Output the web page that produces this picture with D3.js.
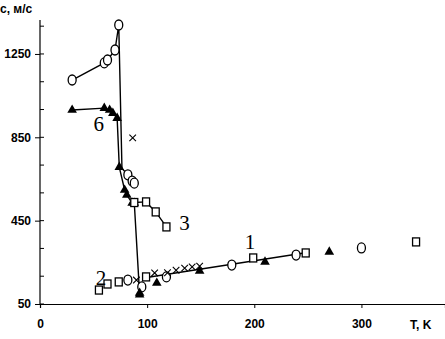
<!DOCTYPE html>
<html>
<head>
<meta charset="utf-8">
<script src="https://d3js.org/d3.v7.min.js"></script>
<style>
  body { margin: 0; background: #fff; }
  .ax { font-family: "Liberation Sans", Arial, sans-serif; font-weight: bold; }
  .lbl { font-family: "Liberation Serif", serif; }
</style>
</head>
<body>
<svg id="chart" width="445" height="339"></svg>
<script>
// [T, c] pairs
const circlesUpper = [[30, 1125], [60, 1207], [63, 1221], [70, 1269], [73.5, 1389], [76.5, 700], [82, 670], [86, 640], [88, 630]];
const triangles6 = [[30, 981], [60, 990], [65, 981], [68, 966], [72, 942], [74, 707], [79, 597], [81, 573], [86, 535], [88, 535], [93, 95]];
const squares3 = [[88, 537], [99, 540], [108, 492], [118, 420]];
const squares2 = [[55, 117], [63, 146], [73.5, 156], [99, 180], [199, 271], [248, 295], [351, 348]];
const circles1 = [[82, 165], [95, 132], [118, 180], [179, 237], [239, 285], [300, 319]];
const triangles1 = [[93, 103], [109, 151], [149, 208], [210, 252], [270, 300]];
const crosses = [[86.5, 847], [90, 165], [107, 199], [119, 200], [127, 212], [135, 222], [142, 228], [149, 232]];
const line1 = [[98, 176], [248, 296]];
const xTicks = [0, 100, 200, 300];
const yTicks = [50, 450, 850, 1250];
const curveLabels = [["6", 50, 880], ["3", 130, 405], ["1", 191, 312], ["2", 52, 140]];

const svg = d3.select("#chart");
const x = d3.scaleLinear().domain([0, 378]).range([40, 445]);
const y = d3.scaleLinear().domain([50, 1413]).range([304, 20]);

// axes
svg.append("g").attr("class", "ax")
  .attr("transform", "translate(0,304)")
  .call(d3.axisBottom(x).tickValues(xTicks).tickSize(4).tickPadding(11).tickFormat(d3.format("d")))
  .call(g => g.select(".domain").attr("stroke-width", 1.2));
svg.append("g").attr("class", "ax")
  .attr("transform", "translate(40,0)")
  .call(d3.axisLeft(y).tickValues(yTicks).tickSize(5).tickPadding(4).tickFormat(d3.format("d")))
  .call(g => g.select(".domain").attr("stroke-width", 1.2).attr("d", "M0,20V304"));
// minor ticks
svg.append("g").selectAll("line")
  .data(d3.range(50, 1400, 400 / 3))
  .join("line")
  .attr("x1", 40).attr("x2", 44)
  .attr("y1", d => y(d)).attr("y2", d => y(d))
  .attr("stroke", "#000");
svg.selectAll(".tick text")
  .attr("font-size", 12).attr("fill", "#000");
svg.selectAll(".tick line").attr("stroke", "#000");

svg.append("text").attr("class", "ax").attr("x", 0).attr("y", 13)
  .attr("font-size", 12).text("c, м/с");
svg.append("text").attr("class", "ax").attr("x", 410).attr("y", 329)
  .attr("font-size", 12).text("T, K");

const line = d3.line().x(d => x(d[0])).y(d => y(d[1]));
[circlesUpper, triangles6, squares3, line1].forEach(s => {
  svg.append("path").datum(s).attr("d", line)
    .attr("fill", "none").attr("stroke", "#000").attr("stroke-width", 1.4);
});

function drawCircles(data) {
  svg.append("g").selectAll("ellipse").data(data).join("ellipse")
    .attr("cx", d => x(d[0])).attr("cy", d => y(d[1]))
    .attr("rx", 4).attr("ry", 5)
    .attr("fill", "#fff").attr("stroke", "#000").attr("stroke-width", 1.3);
}
function drawSquares(data) {
  svg.append("g").selectAll("rect").data(data).join("rect")
    .attr("x", d => x(d[0]) - 3.5).attr("y", d => y(d[1]) - 4)
    .attr("width", 7).attr("height", 8)
    .attr("fill", "#fff").attr("stroke", "#000").attr("stroke-width", 1.3);
}
function drawTriangles(data) {
  svg.append("g").selectAll("path").data(data).join("path")
    .attr("d", d3.symbol(d3.symbolTriangle, 40))
    .attr("transform", d => `translate(${x(d[0])},${y(d[1])})`)
    .attr("fill", "#000");
}

drawCircles(circlesUpper.filter(d => d[0] !== 76.5));
drawTriangles(triangles6);
drawSquares(squares3);
drawSquares(squares2);
drawCircles(circles1);
drawTriangles(triangles1);

svg.append("g").selectAll("path").data(crosses).join("path")
  .attr("d", d3.symbol(d3.symbolTimes, 30))
  .attr("transform", d => `translate(${x(d[0])},${y(d[1])})`)
  .attr("fill", "none").attr("stroke", "#000").attr("stroke-width", 1.1);

svg.append("g").selectAll("text").data(curveLabels).join("text")
  .attr("class", "lbl")
  .attr("x", d => x(d[1])).attr("y", d => y(d[2]))
  .attr("font-size", 21)
  .text(d => d[0]);
</script>
</body>
</html>
